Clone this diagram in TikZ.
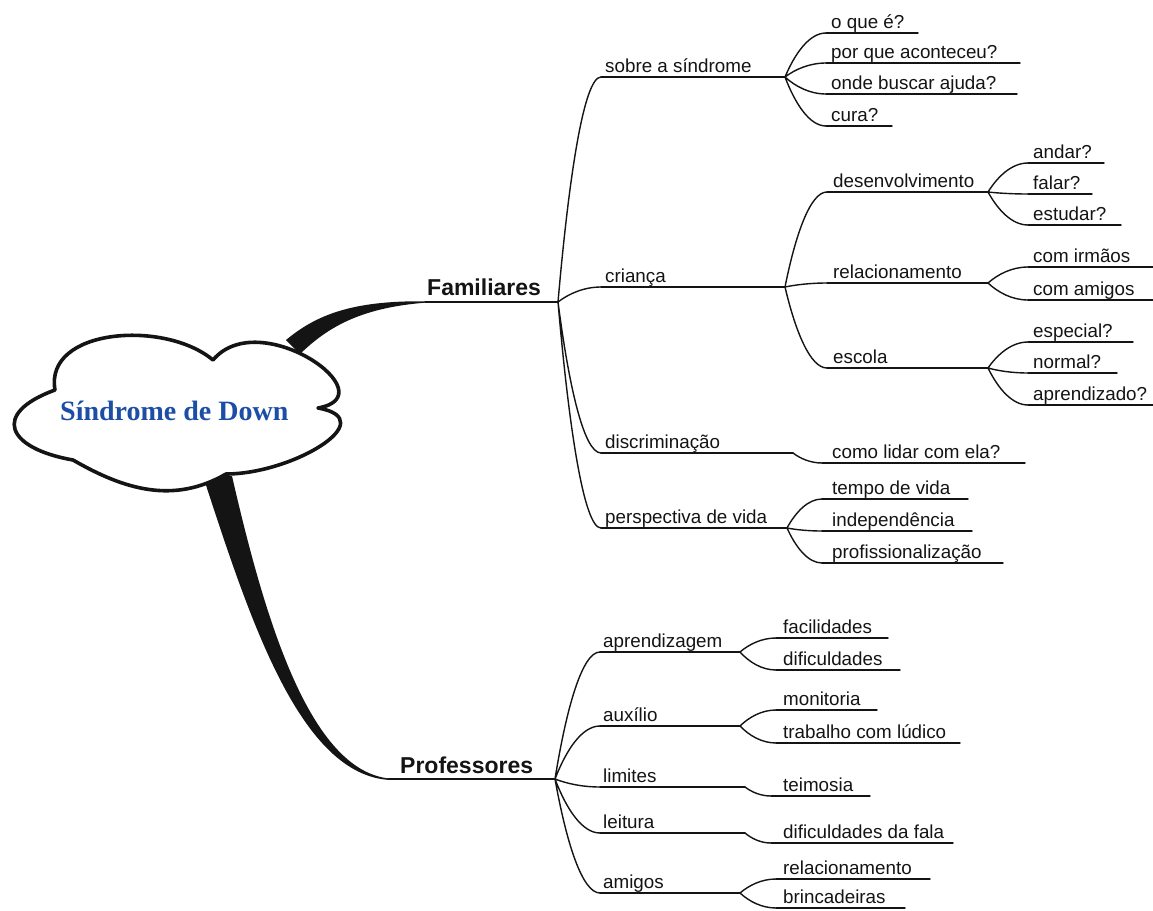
\documentclass[tikz,border=0pt]{standalone}
\usepackage{fontspec}
\setmainfont{Liberation Sans}
\newfontfamily\titlefont{Liberation Serif}
\usetikzlibrary{calc}
\definecolor{titleblue}{RGB}{28,78,168}
\definecolor{ink}{RGB}{20,20,20}

% #1 text offset, #2 name, #3 x start, #4 x end, #5 y of the underline, #6 text
\newcommand{\mmtopic}[6][4]{%
  \coordinate (#2-s) at (#3,-#5);
  \coordinate (#2) at (#4,-#5);
  \node[lab, anchor=base west] (#2-t) at (#3+#1,-#5+5) {#6};
  \draw[ln] (#2-s) -- (#2);
}

\begin{document}
\begin{tikzpicture}[x=1pt,y=1pt,
  ln/.style={draw=ink, line width=1.4pt, line cap=round},
  lab/.style={inner sep=0pt, text=ink, font=\fontsize{18.8}{22}\selectfont},
  big/.style={inner sep=0pt, text=ink, font=\fontsize{23}{27}\selectfont\bfseries},
  branch/.style={to path={let \p1=(\tikztostart), \p2=(\tikztotarget) in
     .. controls ({\x1+0.25*(\x2-\x1)},{\y1+0.55*(\y2-\y1)})
             and ({\x2-0.4*(\x2-\x1)},{\y2}) .. (\tikztotarget) \tikztonodes}}]

\useasboundingbox (0,0) rectangle (1153,-910);
\fill[white] (0,0) rectangle (1153,-910);

% main branches: tapered strokes leaving the cloud
\coordinate (fam-s) at (425,-302);
\coordinate (fam) at (558,-302);
\coordinate (prof-s) at (388,-779);
\coordinate (prof) at (555,-779);
\fill[ink] (286,-340) .. controls (316,-315) and (352,-300.5) .. (425,-301.3)
  -- (425,-302.7) .. controls (358,-308) and (326,-329) .. (300,-354) -- cycle;
\fill[ink] (203,-476) .. controls (250,-620) and (300,-775) .. (390,-780)
  -- (390,-778.6) .. controls (310,-771) and (265,-620) .. (232,-476) -- cycle;

% central cloud
\coordinate (cA) at (55,-390);
\coordinate (cB) at (213,-360);
\coordinate (cC) at (318,-408);
\coordinate (cD) at (226,-474);
\coordinate (cE) at (73,-460);
\draw[line width=3.6pt, draw=ink, fill=white, line join=round]
  (cA) to[out=100,in=140] (cB)
  to[out=50,in=10,looseness=1.6] (cC)
  to[out=-10,in=0,looseness=1.5] (cD)
  to[out=210,in=-30] (cE)
  to[out=170,in=200,looseness=2.4] (cA) -- cycle;
\node[anchor=base west, inner sep=0pt, text=titleblue,
  font={\titlefont\fontsize{28}{32}\selectfont\bfseries}] (title) at (60,-420) {Síndrome de Down};

% first level
\node[big, anchor=base west] (fam-t) at (427,-295) {Familiares};
\draw[ln] (fam-s) -- (fam);
\node[big, anchor=base west] (prof-t) at (400,-773) {Professores};
\draw[ln] (prof-s) -- (prof);

% Familiares
\mmtopic{sobre}{601}{785}{77}{sobre a síndrome}
\mmtopic{crianca}{601}{785}{287}{criança}
\mmtopic{discr}{601}{793}{453}{discriminação}
\mmtopic{persp}{601}{787}{528}{perspectiva de vida}
\draw[ln] (fam) to[branch] (sobre-s) (fam) to[branch] (crianca-s)
  (fam) to[branch] (discr-s) (fam) to[branch] (persp-s);

\mmtopic[5]{oque}{826}{918}{33}{o que é?}
\mmtopic[5]{porque}{826}{1020}{63}{por que aconteceu?}
\mmtopic[5]{onde}{826}{1017}{94}{onde buscar ajuda?}
\mmtopic[5]{cura}{826}{892}{126}{cura?}
\draw[ln] (sobre) to[branch] (oque-s) (sobre) to[branch] (porque-s)
  (sobre) to[branch] (onde-s) (sobre) to[branch] (cura-s);

\mmtopic[6]{desenv}{827}{988}{192}{desenvolvimento}
\mmtopic[6]{relac}{827}{988}{283}{relacionamento}
\mmtopic[6]{escola}{827}{988}{368}{escola}
\draw[ln] (crianca) to[branch] (desenv-s) (crianca) to[branch] (relac-s)
  (crianca) to[branch] (escola-s);

\mmtopic[5]{andar}{1028}{1104}{163}{andar?}
\mmtopic[5]{falar}{1028}{1092}{194}{falar?}
\mmtopic[5]{estudar}{1028}{1121}{225}{estudar?}
\draw[ln] (desenv) to[branch] (andar-s) (desenv) to[branch] (falar-s)
  (desenv) to[branch] (estudar-s);

\mmtopic[5]{irmaos}{1028}{1153}{267}{com irmãos}
\mmtopic[5]{comamigos}{1028}{1153}{300}{com amigos}
\draw[ln] (relac) to[branch] (irmaos-s) (relac) to[branch] (comamigos-s);

\mmtopic[5]{especial}{1028}{1133}{342}{especial?}
\mmtopic[5]{normal}{1028}{1117}{373}{normal?}
\mmtopic[5]{aprendizado}{1028}{1153}{405}{aprendizado?}
\draw[ln] (escola) to[branch] (especial-s) (escola) to[branch] (normal-s)
  (escola) to[branch] (aprendizado-s);

\mmtopic[10]{lidar}{822}{1025}{463}{como lidar com ela?}
\draw[ln] (discr) to[branch] (lidar-s);

\mmtopic[10]{tempo}{822}{968}{499}{tempo de vida}
\mmtopic[10]{indep}{822}{972}{531}{independência}
\mmtopic[10]{profis}{822}{1003}{563}{profissionalização}
\draw[ln] (persp) to[branch] (tempo-s) (persp) to[branch] (indep-s)
  (persp) to[branch] (profis-s);

% Professores
\mmtopic[3]{aprendiz}{600}{740}{652}{aprendizagem}
\mmtopic[3]{auxilio}{600}{740}{726}{auxílio}
\mmtopic[3]{limites}{600}{745}{787}{limites}
\mmtopic[3]{leitura}{600}{745}{833}{leitura}
\mmtopic[3]{amigos}{600}{740}{893}{amigos}
\draw[ln] (prof) to[branch] (aprendiz-s) (prof) to[branch] (auxilio-s)
  (prof) to[branch] (limites-s) (prof) to[branch] (leitura-s)
  (prof) to[branch] (amigos-s);

\mmtopic[7]{facil}{776}{888}{638}{facilidades}
\mmtopic[7]{dific}{776}{900}{670}{dificuldades}
\draw[ln] (aprendiz) to[branch] (facil-s) (aprendiz) to[branch] (dific-s);

\mmtopic[7]{monit}{776}{877}{710}{monitoria}
\mmtopic[7]{ludico}{776}{960}{743}{trabalho com lúdico}
\draw[ln] (auxilio) to[branch] (monit-s) (auxilio) to[branch] (ludico-s);

\mmtopic[12]{teimosia}{771}{870}{796}{teimosia}
\draw[ln] (limites) to[branch] (teimosia-s);

\mmtopic[12]{fala}{771}{953}{843}{dificuldades da fala}
\draw[ln] (leitura) to[branch] (fala-s);

\mmtopic[7]{relacp}{776}{930}{879}{relacionamento}
\mmtopic[7]{brinc}{776}{905}{908}{brincadeiras}
\draw[ln] (amigos) to[branch] (relacp-s) (amigos) to[branch] (brinc-s);

\end{tikzpicture}
\end{document}
